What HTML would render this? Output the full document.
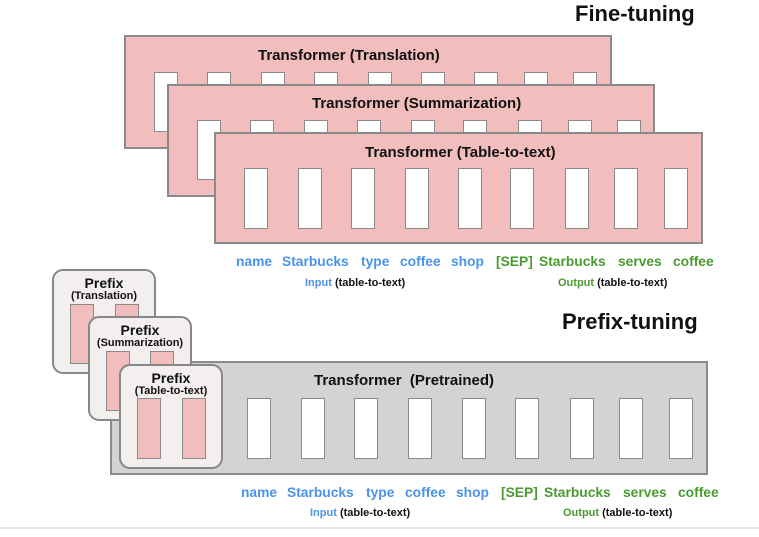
<!DOCTYPE html>
<html><head><meta charset="utf-8"><style>
body{margin:0;width:759px;height:537px;background:#fff;position:relative;overflow:hidden;font-family:"Liberation Sans",Arial,sans-serif;font-weight:bold}
.a{position:absolute}
.box{position:absolute;background:#f2bdbd;border:2px solid #8a8a8a;box-sizing:border-box}
.s{position:absolute;background:#fff;border:1.5px solid #8a8a8a;box-sizing:border-box;width:24px}
.p{position:absolute;background:#f2bdbd;border:1.5px solid #8a8a8a;box-sizing:border-box;width:24px}
.pre{position:absolute;background:#f3efee;border:2px solid #888;border-radius:11px;box-sizing:border-box;width:104px;height:105px}
.t{position:absolute;font-size:15px;color:#111;white-space:nowrap}
.w{position:absolute;font-size:13.8px;white-space:nowrap}
.b{color:#4a93e8}.g{color:#4b9a2f}
.l{position:absolute;font-size:11px;white-space:nowrap;color:#111}
.pt{position:absolute;text-align:center;width:104px;color:#111;line-height:1}
</style></head><body>
<div class="a" style="left:575px;top:1px;font-size:22px;color:#111">Fine-tuning</div>
<div class="a" style="left:562px;top:309px;font-size:22px;color:#111">Prefix-tuning</div>

<div class="box" style="left:124px;top:35px;width:488px;height:114px"></div>
<div class="t" style="left:258px;top:47px">Transformer (Translation)</div>
<div class="s" style="left:154px;top:72px;height:60px"></div>
<div class="s" style="left:207px;top:72px;height:20px"></div>
<div class="s" style="left:261px;top:72px;height:20px"></div>
<div class="s" style="left:314px;top:72px;height:20px"></div>
<div class="s" style="left:368px;top:72px;height:20px"></div>
<div class="s" style="left:421px;top:72px;height:20px"></div>
<div class="s" style="left:474px;top:72px;height:20px"></div>
<div class="s" style="left:524px;top:72px;height:20px"></div>
<div class="s" style="left:573px;top:72px;height:20px"></div>

<div class="box" style="left:167px;top:84px;width:488px;height:113px"></div>
<div class="t" style="left:312px;top:95px">Transformer (Summarization)</div>
<div class="s" style="left:197px;top:120px;height:60px"></div>
<div class="s" style="left:250px;top:120px;height:20px"></div>
<div class="s" style="left:304px;top:120px;height:20px"></div>
<div class="s" style="left:357px;top:120px;height:20px"></div>
<div class="s" style="left:411px;top:120px;height:20px"></div>
<div class="s" style="left:463px;top:120px;height:20px"></div>
<div class="s" style="left:518px;top:120px;height:20px"></div>
<div class="s" style="left:568px;top:120px;height:20px"></div>
<div class="s" style="left:617px;top:120px;height:20px"></div>

<div class="box" style="left:214px;top:132px;width:489px;height:112px"></div>
<div class="t" style="left:365px;top:144px">Transformer (Table-to-text)</div>
<div class="s" style="left:244px;top:168px;height:61px"></div>
<div class="s" style="left:298px;top:168px;height:61px"></div>
<div class="s" style="left:351px;top:168px;height:61px"></div>
<div class="s" style="left:405px;top:168px;height:61px"></div>
<div class="s" style="left:458px;top:168px;height:61px"></div>
<div class="s" style="left:510px;top:168px;height:61px"></div>
<div class="s" style="left:565px;top:168px;height:61px"></div>
<div class="s" style="left:614px;top:168px;height:61px"></div>
<div class="s" style="left:664px;top:168px;height:61px"></div>

<div class="w b" style="left:236px;top:254px">name</div>
<div class="w b" style="left:282px;top:254px">Starbucks</div>
<div class="w b" style="left:361px;top:254px">type</div>
<div class="w b" style="left:400px;top:254px">coffee</div>
<div class="w b" style="left:451px;top:254px">shop</div>
<div class="w g" style="left:496px;top:254px">[SEP]</div>
<div class="w g" style="left:539px;top:254px">Starbucks</div>
<div class="w g" style="left:618px;top:254px">serves</div>
<div class="w g" style="left:673px;top:254px">coffee</div>
<div class="l" style="left:305px;top:277px"><span class="b">Input</span> (table-to-text)</div>
<div class="l" style="left:558px;top:277px"><span class="g">Output</span> (table-to-text)</div>

<div class="box" style="left:110px;top:361px;width:598px;height:114px;background:#d3d3d3"></div>
<div class="t" style="left:314px;top:372px">Transformer&nbsp; (Pretrained)</div>
<div class="s" style="left:247px;top:398px;height:61px"></div>
<div class="s" style="left:301px;top:398px;height:61px"></div>
<div class="s" style="left:354px;top:398px;height:61px"></div>
<div class="s" style="left:408px;top:398px;height:61px"></div>
<div class="s" style="left:462px;top:398px;height:61px"></div>
<div class="s" style="left:515px;top:398px;height:61px"></div>
<div class="s" style="left:570px;top:398px;height:61px"></div>
<div class="s" style="left:619px;top:398px;height:61px"></div>
<div class="s" style="left:669px;top:398px;height:61px"></div>

<div class="pre" style="left:52px;top:269px"></div>
<div class="pt" style="left:52px;top:276px;font-size:14px">Prefix</div>
<div class="pt" style="left:52px;top:291px;font-size:11px">(Translation)</div>
<div class="p" style="left:70px;top:304px;height:60px"></div>
<div class="p" style="left:115px;top:304px;height:60px"></div>

<div class="pre" style="left:88px;top:316px"></div>
<div class="pt" style="left:88px;top:323px;font-size:14px">Prefix</div>
<div class="pt" style="left:88px;top:338px;font-size:11px">(Summarization)</div>
<div class="p" style="left:106px;top:351px;height:60px"></div>
<div class="p" style="left:150px;top:351px;height:60px"></div>

<div class="pre" style="left:119px;top:364px"></div>
<div class="pt" style="left:119px;top:371px;font-size:14px">Prefix</div>
<div class="pt" style="left:119px;top:386px;font-size:11px">(Table-to-text)</div>
<div class="p" style="left:137px;top:398px;height:61px"></div>
<div class="p" style="left:182px;top:398px;height:61px"></div>

<div class="w b" style="left:241px;top:485px">name</div>
<div class="w b" style="left:287px;top:485px">Starbucks</div>
<div class="w b" style="left:366px;top:485px">type</div>
<div class="w b" style="left:405px;top:485px">coffee</div>
<div class="w b" style="left:456px;top:485px">shop</div>
<div class="w g" style="left:501px;top:485px">[SEP]</div>
<div class="w g" style="left:544px;top:485px">Starbucks</div>
<div class="w g" style="left:623px;top:485px">serves</div>
<div class="w g" style="left:678px;top:485px">coffee</div>
<div class="l" style="left:310px;top:507px"><span class="b">Input</span> (table-to-text)</div>
<div class="l" style="left:563px;top:507px"><span class="g">Output</span> (table-to-text)</div>

<div class="a" style="left:0;top:527px;width:759px;height:2px;background:#e8e8e8"></div>
</body></html>
